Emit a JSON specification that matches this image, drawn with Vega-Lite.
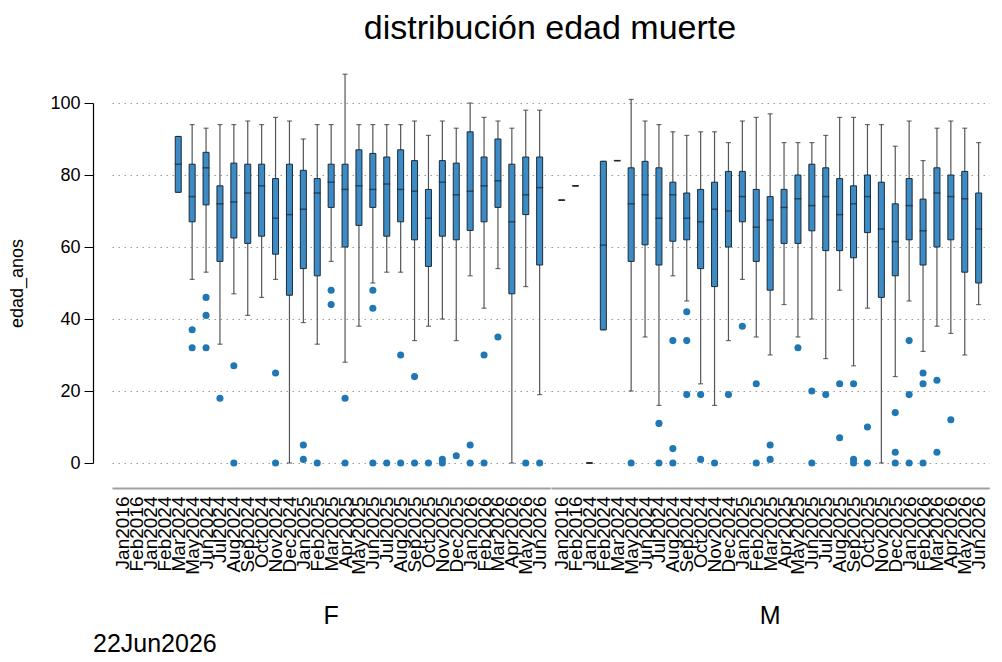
{
  "$schema": "https://vega.github.io/schema/vega-lite/v6.json",
  "background": "white",
  "padding": {"left": 8, "top": 11, "right": 5, "bottom": 5},
  "bounds": "flush",
  "title": {"text": "distribución edad muerte", "fontSize": 34, "font": "Liberation Sans", "fontWeight": "normal", "color": "black", "anchor": "start", "align": "center", "dx": 438, "frame": "group", "offset": 28},
  "data": {"values": [
    {"sexo":"F","mes":"Mar2024","min":75.2,"q1":75.2,"med":83,"q3":90.7,"max":90.7},
    {"sexo":"F","mes":"May2024","min":51,"q1":67,"med":74,"q3":83,"max":94},
    {"sexo":"F","mes":"Jun2024","min":53,"q1":71.7,"med":82,"q3":86.3,"max":93},
    {"sexo":"F","mes":"Jul2024","min":33,"q1":56,"med":72,"q3":77,"max":94},
    {"sexo":"F","mes":"Aug2024","min":47,"q1":62.5,"med":72.5,"q3":83.3,"max":94},
    {"sexo":"F","mes":"Sep2024","min":41,"q1":61,"med":75,"q3":83,"max":95},
    {"sexo":"F","mes":"Oct2024","min":46,"q1":63,"med":77,"q3":83,"max":94},
    {"sexo":"F","mes":"Nov2024","min":51,"q1":58,"med":68,"q3":79,"max":96},
    {"sexo":"F","mes":"Dec2024","min":0,"q1":46.6,"med":69,"q3":83,"max":95},
    {"sexo":"F","mes":"Jan2025","min":39,"q1":54,"med":70.5,"q3":81.3,"max":90},
    {"sexo":"F","mes":"Feb2025","min":33,"q1":52,"med":75,"q3":79,"max":94},
    {"sexo":"F","mes":"Mar2025","min":56,"q1":71,"med":78,"q3":83,"max":94},
    {"sexo":"F","mes":"Apr2025","min":28,"q1":60,"med":76,"q3":83,"max":108},
    {"sexo":"F","mes":"May2025","min":38,"q1":66,"med":77,"q3":87,"max":94},
    {"sexo":"F","mes":"Jun2025","min":50,"q1":71,"med":76,"q3":86,"max":94},
    {"sexo":"F","mes":"Jul2025","min":53,"q1":63,"med":77.5,"q3":85,"max":94},
    {"sexo":"F","mes":"Aug2025","min":53,"q1":67,"med":76,"q3":87,"max":94},
    {"sexo":"F","mes":"Sep2025","min":34,"q1":62,"med":75.5,"q3":84,"max":95},
    {"sexo":"F","mes":"Oct2025","min":38,"q1":54.6,"med":68,"q3":76,"max":91},
    {"sexo":"F","mes":"Nov2025","min":40,"q1":63,"med":78,"q3":84,"max":95},
    {"sexo":"F","mes":"Dec2025","min":34,"q1":62,"med":74.5,"q3":83.3,"max":93},
    {"sexo":"F","mes":"Jan2026","min":52,"q1":64.6,"med":75.5,"q3":92,"max":100},
    {"sexo":"F","mes":"Feb2026","min":43,"q1":67,"med":77,"q3":85,"max":96},
    {"sexo":"F","mes":"Mar2026","min":54,"q1":71,"med":78.4,"q3":90,"max":95},
    {"sexo":"F","mes":"Apr2026","min":0,"q1":47,"med":67,"q3":83,"max":93},
    {"sexo":"F","mes":"May2026","min":49,"q1":69,"med":74.5,"q3":85,"max":98},
    {"sexo":"F","mes":"Jun2026","min":19,"q1":55,"med":76.5,"q3":85,"max":98},
    {"sexo":"M","mes":"Jan2016","min":73,"q1":73,"med":73,"q3":73,"max":73},
    {"sexo":"M","mes":"Feb2016","min":77,"q1":77,"med":77,"q3":77,"max":77},
    {"sexo":"M","mes":"Jan2024","min":0,"q1":0,"med":0,"q3":0,"max":0},
    {"sexo":"M","mes":"Feb2024","min":37,"q1":37,"med":60.5,"q3":83.8,"max":83.8},
    {"sexo":"M","mes":"Mar2024","min":84,"q1":84,"med":84,"q3":84,"max":84},
    {"sexo":"M","mes":"May2024","min":20,"q1":56,"med":72,"q3":82,"max":101},
    {"sexo":"M","mes":"Jun2024","min":35,"q1":60.6,"med":74.5,"q3":83.8,"max":95},
    {"sexo":"M","mes":"Jul2024","min":16,"q1":55,"med":68,"q3":82,"max":94},
    {"sexo":"M","mes":"Aug2024","min":52,"q1":61.6,"med":74.5,"q3":78,"max":92},
    {"sexo":"M","mes":"Sep2024","min":45,"q1":62,"med":68,"q3":75,"max":91},
    {"sexo":"M","mes":"Oct2024","min":22,"q1":54,"med":67,"q3":76,"max":92},
    {"sexo":"M","mes":"Nov2024","min":16,"q1":49,"med":70.5,"q3":78,"max":92},
    {"sexo":"M","mes":"Dec2024","min":34,"q1":60,"med":70,"q3":81,"max":89},
    {"sexo":"M","mes":"Jan2025","min":51,"q1":67,"med":74,"q3":81,"max":95},
    {"sexo":"M","mes":"Feb2025","min":35,"q1":56,"med":65.5,"q3":76,"max":96},
    {"sexo":"M","mes":"Mar2025","min":30,"q1":48,"med":67.5,"q3":74,"max":97},
    {"sexo":"M","mes":"Apr2025","min":44,"q1":61,"med":71,"q3":76,"max":89},
    {"sexo":"M","mes":"May2025","min":35,"q1":61,"med":73.4,"q3":80,"max":89},
    {"sexo":"M","mes":"Jun2025","min":40,"q1":64.5,"med":71.5,"q3":83,"max":89},
    {"sexo":"M","mes":"Jul2025","min":29,"q1":59,"med":74,"q3":82,"max":91},
    {"sexo":"M","mes":"Aug2025","min":48,"q1":59,"med":69,"q3":79,"max":96},
    {"sexo":"M","mes":"Sep2025","min":27,"q1":57,"med":72,"q3":77,"max":96},
    {"sexo":"M","mes":"Oct2025","min":43,"q1":64,"med":74,"q3":80,"max":94},
    {"sexo":"M","mes":"Nov2025","min":0,"q1":46,"med":65,"q3":78,"max":94},
    {"sexo":"M","mes":"Dec2025","min":24,"q1":52,"med":61.5,"q3":72,"max":88},
    {"sexo":"M","mes":"Jan2026","min":45,"q1":62,"med":71.5,"q3":79,"max":95},
    {"sexo":"M","mes":"Feb2026","min":31,"q1":55,"med":64.5,"q3":73.3,"max":84},
    {"sexo":"M","mes":"Mar2026","min":38,"q1":60,"med":75,"q3":82,"max":93},
    {"sexo":"M","mes":"Apr2026","min":36,"q1":62,"med":74,"q3":80,"max":95},
    {"sexo":"M","mes":"May2026","min":30,"q1":53,"med":73.4,"q3":81,"max":93},
    {"sexo":"M","mes":"Jun2026","min":44,"q1":50,"med":65,"q3":75,"max":89},
    {"sexo":"F","mes":"May2024","atipico":37},
    {"sexo":"F","mes":"May2024","atipico":32},
    {"sexo":"F","mes":"Jun2024","atipico":46},
    {"sexo":"F","mes":"Jun2024","atipico":41},
    {"sexo":"F","mes":"Jun2024","atipico":32},
    {"sexo":"F","mes":"Jul2024","atipico":18},
    {"sexo":"F","mes":"Aug2024","atipico":27},
    {"sexo":"F","mes":"Aug2024","atipico":0},
    {"sexo":"F","mes":"Nov2024","atipico":25},
    {"sexo":"F","mes":"Nov2024","atipico":0},
    {"sexo":"F","mes":"Jan2025","atipico":5},
    {"sexo":"F","mes":"Jan2025","atipico":1},
    {"sexo":"F","mes":"Feb2025","atipico":0},
    {"sexo":"F","mes":"Mar2025","atipico":48},
    {"sexo":"F","mes":"Mar2025","atipico":44},
    {"sexo":"F","mes":"Apr2025","atipico":18},
    {"sexo":"F","mes":"Apr2025","atipico":0},
    {"sexo":"F","mes":"Jun2025","atipico":48},
    {"sexo":"F","mes":"Jun2025","atipico":43},
    {"sexo":"F","mes":"Jun2025","atipico":0},
    {"sexo":"F","mes":"Jul2025","atipico":0},
    {"sexo":"F","mes":"Aug2025","atipico":30},
    {"sexo":"F","mes":"Aug2025","atipico":0},
    {"sexo":"F","mes":"Sep2025","atipico":24},
    {"sexo":"F","mes":"Sep2025","atipico":0},
    {"sexo":"F","mes":"Oct2025","atipico":0},
    {"sexo":"F","mes":"Nov2025","atipico":1},
    {"sexo":"F","mes":"Nov2025","atipico":0},
    {"sexo":"F","mes":"Dec2025","atipico":2},
    {"sexo":"F","mes":"Jan2026","atipico":5},
    {"sexo":"F","mes":"Jan2026","atipico":0},
    {"sexo":"F","mes":"Feb2026","atipico":30},
    {"sexo":"F","mes":"Feb2026","atipico":0},
    {"sexo":"F","mes":"Mar2026","atipico":35},
    {"sexo":"F","mes":"May2026","atipico":0},
    {"sexo":"F","mes":"Jun2026","atipico":0},
    {"sexo":"M","mes":"May2024","atipico":0},
    {"sexo":"M","mes":"Jul2024","atipico":11},
    {"sexo":"M","mes":"Jul2024","atipico":0},
    {"sexo":"M","mes":"Aug2024","atipico":34},
    {"sexo":"M","mes":"Aug2024","atipico":4},
    {"sexo":"M","mes":"Aug2024","atipico":0},
    {"sexo":"M","mes":"Sep2024","atipico":42},
    {"sexo":"M","mes":"Sep2024","atipico":34},
    {"sexo":"M","mes":"Sep2024","atipico":19},
    {"sexo":"M","mes":"Oct2024","atipico":19},
    {"sexo":"M","mes":"Oct2024","atipico":1},
    {"sexo":"M","mes":"Nov2024","atipico":0},
    {"sexo":"M","mes":"Dec2024","atipico":19},
    {"sexo":"M","mes":"Jan2025","atipico":38},
    {"sexo":"M","mes":"Feb2025","atipico":22},
    {"sexo":"M","mes":"Feb2025","atipico":0},
    {"sexo":"M","mes":"Mar2025","atipico":5},
    {"sexo":"M","mes":"Mar2025","atipico":1},
    {"sexo":"M","mes":"May2025","atipico":32},
    {"sexo":"M","mes":"Jun2025","atipico":20},
    {"sexo":"M","mes":"Jun2025","atipico":0},
    {"sexo":"M","mes":"Jul2025","atipico":19},
    {"sexo":"M","mes":"Aug2025","atipico":22},
    {"sexo":"M","mes":"Aug2025","atipico":7},
    {"sexo":"M","mes":"Sep2025","atipico":22},
    {"sexo":"M","mes":"Sep2025","atipico":1},
    {"sexo":"M","mes":"Sep2025","atipico":0},
    {"sexo":"M","mes":"Oct2025","atipico":10},
    {"sexo":"M","mes":"Oct2025","atipico":0},
    {"sexo":"M","mes":"Dec2025","atipico":14},
    {"sexo":"M","mes":"Dec2025","atipico":3},
    {"sexo":"M","mes":"Dec2025","atipico":0},
    {"sexo":"M","mes":"Jan2026","atipico":34},
    {"sexo":"M","mes":"Jan2026","atipico":19},
    {"sexo":"M","mes":"Jan2026","atipico":0},
    {"sexo":"M","mes":"Feb2026","atipico":25},
    {"sexo":"M","mes":"Feb2026","atipico":22},
    {"sexo":"M","mes":"Feb2026","atipico":0},
    {"sexo":"M","mes":"Mar2026","atipico":23},
    {"sexo":"M","mes":"Mar2026","atipico":3},
    {"sexo":"M","mes":"Apr2026","atipico":12}
  ]},
  "facet": {
    "column": {
      "field": "sexo", "type": "nominal",
      "header": {
        "labelOrient": "bottom", "labelFontSize": 25, "labelFont": "Liberation Sans", "labelColor": "black", "labelPadding": 30,
        "title": "22Jun2026", "titleOrient": "bottom", "titleAnchor": "start", "titleFontSize": 25, "titleFont": "Liberation Sans", "titleFontWeight": "normal", "titleColor": "black", "titlePadding": -8
      }
    }
  },
  "spacing": 0,
  "spec": {
    "width": 438.3,
    "height": 360,
    "encoding": {
      "x": {
        "field": "mes", "type": "ordinal",
        "scale": {"type": "point", "padding": 0.766, "domain": ["Jan2016","Feb2016","Jan2024","Feb2024","Mar2024","May2024","Jun2024","Jul2024","Aug2024","Sep2024","Oct2024","Nov2024","Dec2024","Jan2025","Feb2025","Mar2025","Apr2025","May2025","Jun2025","Jul2025","Aug2025","Sep2025","Oct2025","Nov2025","Dec2025","Jan2026","Feb2026","Mar2026","Apr2026","May2026","Jun2026"]},
        "axis": {"title": null, "labelAngle": 270, "ticks": false, "domainColor": "#a0a0a0", "domainWidth": 2, "offset": 25, "labelPadding": 8, "labelFontSize": 19, "labelFont": "Liberation Sans", "labelColor": "black", "grid": false}
      }
    },
    "layer": [
      {
        "transform": [{"filter": {"field": "q1", "valid": true}}],
        "mark": {"type": "rule", "color": "#555555", "strokeWidth": 1.2},
        "encoding": {
          "y": {"field": "min", "type": "quantitative", "title": "edad_anos",
            "scale": {"domain": [0, 100], "nice": false, "zero": false},
            "axis": {"values": [0, 20, 40, 60, 80, 100], "offset": 19, "domainColor": "black", "domainWidth": 1.2, "tickColor": "black", "tickSize": 9, "labelPadding": 4, "labelFontSize": 18, "labelFont": "Liberation Sans", "labelColor": "black", "titleFontSize": 18, "titleFont": "Liberation Sans", "titleFontWeight": "normal", "titleColor": "black", "titlePadding": 23, "grid": true, "gridDash": [1.5, 4.5], "gridColor": "#999999", "gridWidth": 1}},
          "y2": {"field": "max"}
        }
      },
      {
        "transform": [{"filter": {"field": "q1", "valid": true}}],
        "mark": {"type": "tick", "color": "#333333", "thickness": 1.2, "size": 5},
        "encoding": {"y": {"field": "min", "type": "quantitative", "title": "edad_anos"}}
      },
      {
        "transform": [{"filter": {"field": "q1", "valid": true}}],
        "mark": {"type": "tick", "color": "#333333", "thickness": 1.2, "size": 5},
        "encoding": {"y": {"field": "max", "type": "quantitative", "title": "edad_anos"}}
      },
      {
        "transform": [{"filter": {"field": "q1", "valid": true}}],
        "mark": {"type": "bar", "width": 6, "fill": "#3d8bc4", "stroke": "#1d2b38", "strokeWidth": 1, "opacity": 1},
        "encoding": {"y": {"field": "q1", "type": "quantitative", "title": "edad_anos"}, "y2": {"field": "q3"}}
      },
      {
        "transform": [{"filter": {"field": "q1", "valid": true}}],
        "mark": {"type": "tick", "color": "#1d2b38", "thickness": 1.5, "size": 7},
        "encoding": {"y": {"field": "med", "type": "quantitative", "title": "edad_anos"}}
      },
      {
        "transform": [{"filter": {"field": "atipico", "valid": true}}],
        "mark": {"type": "circle", "size": 50, "color": "#1f77b4", "opacity": 1},
        "encoding": {"y": {"field": "atipico", "type": "quantitative", "title": "edad_anos"}}
      }
    ]
  },
  "config": {"view": {"stroke": null}}
}
